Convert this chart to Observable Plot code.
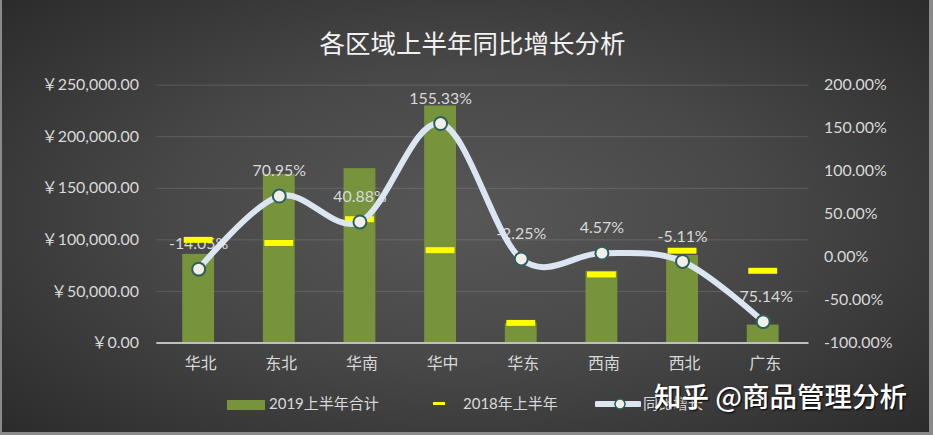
<!DOCTYPE html>
<html>
<head>
<meta charset="utf-8">
<script src="https://cdn.jsdelivr.net/npm/d3@7"></script>
<script src="https://cdn.jsdelivr.net/npm/@observablehq/plot@0.6"></script>
<style>
  html, body { margin: 0; padding: 0; background: #333; }
  #chart {
    position: relative; width: 933px; height: 435px; overflow: hidden; box-sizing: border-box;
    background: radial-gradient(ellipse 70% 75% at 50% 50%, #575757 0%, #484848 45%, #2a2a2a 100%);
    border-left: 2px solid #8a8a8a; border-right: 4px solid #8a8a8a; border-bottom: 3px solid #8a8a8a;
    font-family: Lato, "Noto Sans CJK SC", sans-serif;
  }
  #title { position: absolute; left: 4px; top: 26px; width: 933px; text-align: center; font-size: 25.5px; line-height: 32px; color: #f2f2f2; font-family: "Noto Sans CJK SC", sans-serif; }
  #plot { position: absolute; left: -2px; top: 0; }
  .lg { position: absolute; color: #d9d9d9; font-size: 15px; line-height: 20px; top: 393px; white-space: nowrap; }
  #wm { position: absolute; left: 652px; top: 379px; font-size: 27.5px; line-height: 32px; color: #ffffff; font-family: "Noto Sans CJK SC", sans-serif; font-weight: 500; text-shadow: 1px 1px 2px #000; white-space: nowrap; }
</style>
</head>
<body>
<div id="chart">
  <div id="title">各区域上半年同比增长分析</div>
  <div id="plot"></div>
  <div class="lg" style="left:225px;"><span style="display:inline-block;width:38px;height:10px;background:#77933c;vertical-align:-1px;margin-right:4px;"></span>2019上半年合计</div>
  <div class="lg" style="left:431px;"><span style="display:inline-block;width:12px;height:3px;background:#ffff00;vertical-align:4px;margin-right:18px;"></span>2018年上半年</div>
  <div class="lg" style="left:593px;"><svg width="46" height="14" style="vertical-align:-2px;margin-right:2px;"><line x1="2" y1="7" x2="44" y2="7" stroke="#dce6f2" stroke-width="6" stroke-linecap="round"/><circle cx="25" cy="7" r="5" fill="#f0f0e8" stroke="#2d5f5f" stroke-width="1.5"/></svg>同比增长</div>
  <div id="wm">知乎 @商品管理分析</div>
</div>
<script>
const regions = ["华北", "东北", "华南", "华中", "华东", "西南", "西北", "广东"];
const total2019 = [85950, 163500, 169050, 229800, 19060, 69500, 84900, 17400];
const half2018 = [100000, 97000, 120000, 90000, 19500, 66460, 89470, 70000];
const growth = [-14.05, 70.95, 40.88, 155.33, -2.25, 4.57, -5.11, -75.14];
const leftTicks = [0, 50000, 100000, 150000, 200000, 250000];
const rightTicks = [-100, -50, 0, 50, 100, 150, 200];

const data = regions.map((r, i) => ({region: r, v2019: total2019[i], v2018: half2018[i], g: growth[i]}));
// map percentage (right axis, -100..200) onto the amount scale (0..250000)
const conv = g => (g + 100) / 300 * 250000;

const chart = Plot.plot({
  width: 933,
  height: 435,
  marginLeft: 157,
  marginRight: 121,
  marginTop: 85,
  marginBottom: 91,
  style: {background: "transparent", color: "#d9d9d9", fontSize: "16px", fontFamily: "Lato, 'Noto Sans CJK SC', sans-serif"},
  x: {domain: regions, paddingInner: 0.6, paddingOuter: 0.3, axis: null},
  y: {domain: [0, 250000], axis: null},
  marks: [
    Plot.gridY(leftTicks, {stroke: "#ffffff", strokeOpacity: 0.14}),
    Plot.axisY(leftTicks, {anchor: "left", label: null, tickSize: 0, tickPadding: 18, fontSize: 16, tickFormat: v => "￥" + d3.format(",.2f")(v)}),
    Plot.axisY(rightTicks.map(conv), {anchor: "right", label: null, tickSize: 0, tickPadding: 15, fontSize: 16, tickFormat: v => (Math.round((v / 250000 * 300 - 100) * 100) / 100).toFixed(2) + "%"}),
    Plot.axisX({label: null, tickSize: 0, tickPadding: 15, fontSize: 16, fontFamily: "'Noto Sans CJK SC', sans-serif"}),
    Plot.barY(data, {x: "region", y: "v2019", fill: "#77933c", dx: -2}),
    Plot.text(data, {x: "region", y: d => conv(d.g), text: d => d.g.toFixed(2) + "%", dy: -25, dx: -2, fill: "#d9d9d9", fontSize: 16}),
    Plot.tickY(data, {x: "region", y: "v2018", stroke: "#ffff00", strokeWidth: 6, insetLeft: 1.5, insetRight: 1.5, dx: -2}),
    Plot.line(data, {x: "region", y: d => conv(d.g), curve: "cardinal", stroke: "#dce6f2", strokeWidth: 6, dx: -2}),
    Plot.dot(data, {x: "region", y: d => conv(d.g), r: 6.5, fill: "#f0f0e8", stroke: "#2d5f5f", strokeWidth: 2, dx: -2}),
    Plot.ruleY([0], {stroke: "#bfbfbf", strokeWidth: 2})
  ]
});
document.getElementById("plot").appendChild(chart);
</script>
</body>
</html>
